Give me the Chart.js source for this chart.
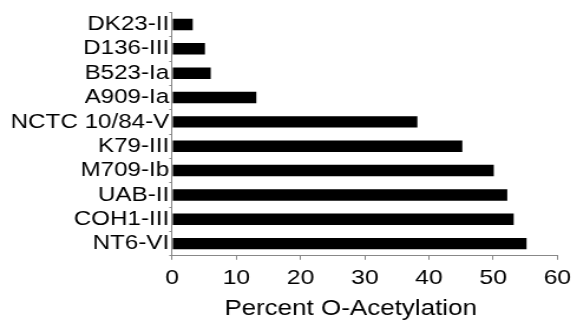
<!DOCTYPE html>
<html>
<head>
<meta charset="utf-8">
<style>
  html, body { margin: 0; padding: 0; background: #fff; overflow: hidden; }
  #wrap { width: 578px; height: 320px; overflow: hidden; }
  #c { transform: scaleX(1.18); transform-origin: 0 0; display: block; }
</style>
<script src="https://cdn.jsdelivr.net/npm/chart.js@4.4.1/dist/chart.umd.min.js"></script>
</head>
<body>
<div id="wrap"><canvas id="c" width="490" height="320"></canvas></div>
<script>
const categories = ["DK23-II", "D136-III", "B523-Ia", "A909-Ia", "NCTC 10/84-V", "K79-III", "M709-Ib", "UAB-II", "COH1-III", "NT6-VI"];
const values = [3.2, 5.1, 6.0, 13.1, 38.2, 45.2, 50.1, 52.2, 53.2, 55.2];
const xTicks = [0, 10, 20, 30, 40, 50, 60];
const xTitle = "Percent O-Acetylation";

const axisTitlePlugin = {
  id: 'axisTitle',
  afterDraw(chart) {
    const ctx = chart.ctx;
    const a = chart.chartArea;
    ctx.save();
    ctx.font = '22px "Liberation Sans"';
    ctx.fillStyle = '#000';
    ctx.textAlign = 'center';
    ctx.textBaseline = 'alphabetic';
    ctx.fillText(xTitle, (a.left + a.right) / 2 - 12, a.bottom + 59.5);
    ctx.restore();
  }
};

new Chart(document.getElementById('c'), {
  type: 'bar',
  data: {
    labels: categories,
    datasets: [{
      data: values,
      backgroundColor: '#000',
      borderWidth: 0,
      barPercentage: 1,
      categoryPercentage: 0.47
    }]
  },
  options: {
    indexAxis: 'y',
    responsive: false,
    animation: false,
    devicePixelRatio: 1,
    layout: { padding: { top: 11, right: 17, left: 9, bottom: 23 } },
    plugins: { legend: { display: false }, tooltip: { enabled: false } },
    scales: {
      x: {
        type: 'linear',
        min: 0, max: 60,
        afterBuildTicks(scale) { scale.ticks = xTicks.map(v => ({ value: v })); },
        grid: { drawOnChartArea: false, drawTicks: true, tickLength: 4, color: '#888' },
        border: { display: true, color: '#888', width: 1 },
        ticks: { color: '#000', font: { family: 'Liberation Sans', size: 21 }, padding: 6, maxRotation: 0 },
        title: { display: false }
      },
      y: {
        grid: { drawOnChartArea: false, drawTicks: true, tickLength: 2.5, color: '#888', offset: true },
        border: { display: true, color: '#888', width: 1 },
        ticks: { color: '#000', font: { family: 'Liberation Sans', size: 20.5 }, padding: 0, autoSkip: false }
      }
    }
  },
  plugins: [axisTitlePlugin]
});
</script>
</body>
</html>
